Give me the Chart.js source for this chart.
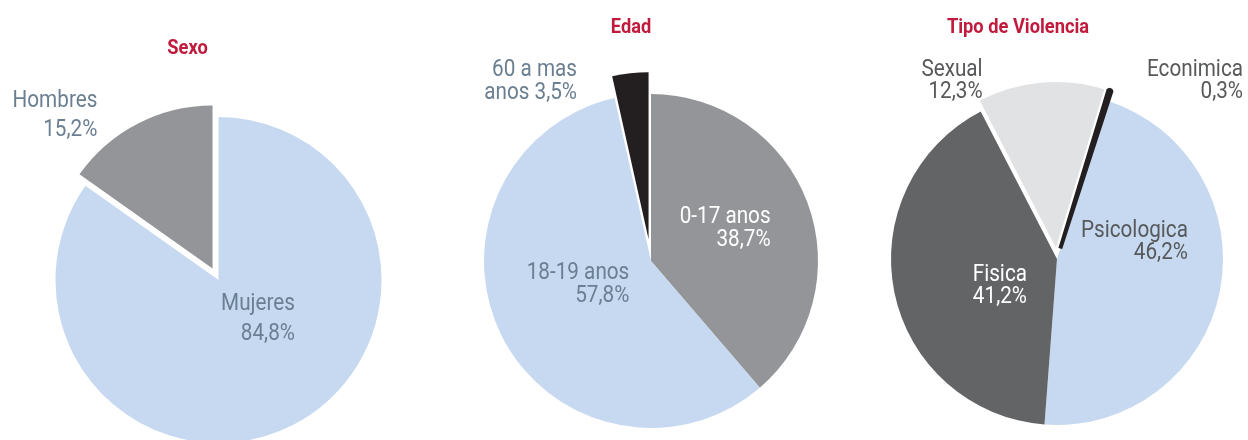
<!DOCTYPE html>
<html>
<head>
<meta charset="utf-8">
<script src="https://cdn.jsdelivr.net/npm/chart.js@4"></script>
<style>
  body { margin: 0; background: #fff; }
  #wrap { position: relative; width: 1248px; height: 440px; overflow: hidden; }
  #wrap canvas { position: absolute; left: 0; top: 0; }
</style>
</head>
<body>
<div id="wrap">
  <canvas id="sexo" width="1248" height="440"></canvas>
  <canvas id="edad" width="1248" height="440"></canvas>
  <canvas id="tipo" width="1248" height="440"></canvas>
</div>
<script>
// data
const sexoLabels = ['Mujeres', 'Hombres'];
const sexoValues = [84.8, 15.2];

const edadLabels = ['0-17 anos', '18-19 anos', '60 a mas anos'];
const edadValues = [38.7, 57.8, 3.5];

const tipoLabels = ['Psicologica', 'Fisica', 'Sexual', 'Econimica'];
const tipoValues = [46.2, 41.2, 12.3, 0.3];

// how each slice label is broken into lines (%v = value)
const sexoText = ['Mujeres\n%v', 'Hombres\n%v'];
const edadText = ['0-17 anos\n%v', '18-19 anos\n%v', '60 a mas\nanos %v'];
const tipoText = ['Psicologica\n%v', 'Fisica\n%v', 'Sexual\n%v', 'Econimica\n%v'];

const BLUE = '#c6d9f0', GRAY = '#939598', BLACK = '#231f20', DARK = '#636466', LIGHT = '#e1e2e4';
const SLATE = '#6b7f92', INK = '#58595b', RED = '#c01a3c';
const W = 1248, H = 440;

const pct = v => v.toFixed(1).replace('.', ',') + '%';

// pull a slice straight out along its mid angle, keeping its radius
// (the built-in arc offset also grows the radius)
function shiftArc(arc, px) {
  if (arc._shift === px) return;
  const draw = Chart.ArcElement.prototype.draw;
  arc._shift = px;
  arc.draw = function (ctx, area) {
    const a = (this.startAngle + this.endAngle) / 2;
    ctx.save();
    ctx.translate(Math.cos(a) * px, Math.sin(a) * px);
    draw.call(this, ctx, area);
    ctx.restore();
  };
}

// condensed look: draw the text squeezed horizontally
function drawLines(ctx, lines, x, y, align, font, color, lh, sx) {
  ctx.save();
  ctx.translate(x, y);
  ctx.scale(sx, 1);
  ctx.font = font;
  ctx.fillStyle = color;
  ctx.textAlign = align;
  ctx.textBaseline = 'alphabetic';
  lines.forEach((l, i) => ctx.fillText(l, 0, i * lh));
  ctx.restore();
}

// exploded slices, title and slice labels placed around each arc's mid angle
function piePlugin(cfg) {
  return {
    id: 'pieText',
    beforeDatasetsDraw(chart) {
      chart.getDatasetMeta(0).data.forEach((arc, i) => {
        if (cfg.shift[i]) shiftArc(arc, cfg.shift[i]);
      });
    },
    afterDatasetsDraw(chart) {
      const ctx = chart.ctx;
      const values = chart.data.datasets[0].data;
      drawLines(ctx, [cfg.title], cfg.titleX, cfg.titleY, 'center', 'bold 21px Roboto', RED, 0, 0.87);
      chart.getDatasetMeta(0).data.forEach((arc, i) => {
        const p = arc.getProps(['x', 'y', 'startAngle', 'endAngle', 'outerRadius'], true);
        const a = (p.startAngle + p.endAngle) / 2 + cfg.turn[i] * Math.PI / 180;
        const d = cfg.dist[i] * p.outerRadius;
        const lines = cfg.text[i].replace('%v', pct(values[i])).split('\n');
        drawLines(ctx, lines, p.x + Math.cos(a) * d, p.y + Math.sin(a) * d,
          'right', '23px Roboto', cfg.color[i], cfg.lh, 0.9);
      });
    }
  };
}

// padding that puts the centre of the chart area at (cx, cy)
function padFor(cx, cy) {
  return {
    left: Math.max(0, 2 * cx - W), right: Math.max(0, W - 2 * cx),
    top: Math.max(0, 2 * cy - H), bottom: Math.max(0, H - 2 * cy)
  };
}

function makePie(id, labels, values, ds, opt, cfg) {
  return new Chart(document.getElementById(id), {
    type: 'pie',
    data: { labels: labels, datasets: [Object.assign({ data: values, clip: false }, ds)] },
    options: {
      responsive: false,
      animation: false,
      events: [],
      devicePixelRatio: 1,
      rotation: opt.rotation,
      radius: opt.radius,
      layout: { padding: padFor(opt.cx, opt.cy) },
      plugins: { legend: { display: false }, tooltip: { enabled: false } }
    },
    plugins: [piePlugin(cfg)]
  });
}

makePie('sexo', sexoLabels, sexoValues, {
  backgroundColor: [BLUE, GRAY],
  borderWidth: 0
}, { rotation: 0, radius: 163, cx: 218.5, cy: 280 }, {
  shift: [0, 13],
  title: 'Sexo', titleX: 187.5, titleY: 54,
  text: sexoText, color: [SLATE, SLATE], lh: 29.5,
  dist: [0.504, 1.297], turn: [-41.2, -7.6]
});

makePie('edad', edadLabels, edadValues, {
  backgroundColor: [GRAY, BLUE, BLACK],
  borderWidth: 0
}, { rotation: 0, radius: 167, cx: 651, cy: 261 }, {
  shift: [0, 0, 22],
  title: 'Edad', titleX: 631, titleY: 33,
  text: edadText, color: ['#ffffff', SLATE, SLATE], lh: 23,
  dist: [0.751, 0.169, 1.193], turn: [2.8, -13.1, -15.5]
});

makePie('tipo', tipoLabels, tipoValues, {
  backgroundColor: [BLUE, DARK, LIGHT, BLACK],
  borderColor: BLACK,
  borderWidth: [0, 0, 0, 4]
}, { rotation: 18, radius: 166, cx: 1057, cy: 259 }, {
  shift: [0, 0, 11, 11],
  title: 'Tipo de Violencia', titleX: 1018, titleY: 33,
  text: tipoText, color: [INK, '#ffffff', INK, INK], lh: 22.5,
  dist: [0.80, 0.224, 1.19, 1.572], turn: [-20.7, -24.7, -16.9, 28]
});
</script>
</body>
</html>
